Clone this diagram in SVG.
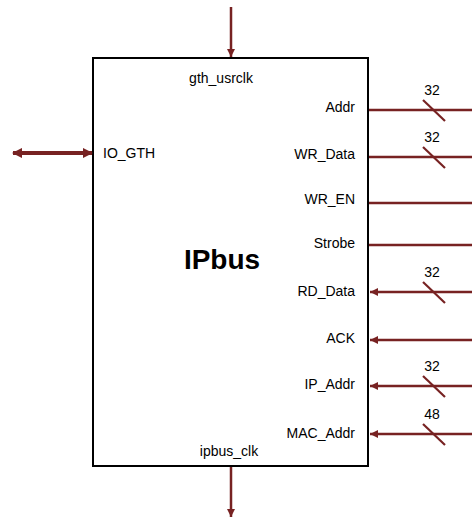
<svg xmlns="http://www.w3.org/2000/svg" width="472" height="521" viewBox="0 0 472 521">
<defs>
<marker id="ah" viewBox="0 0 10 10" refX="10" refY="5" markerWidth="3.2" markerHeight="3.2" orient="auto-start-reverse" markerUnits="strokeWidth">
<path d="M0,0 L10,5 L0,10 Z" fill="#772222"/>
</marker>
<marker id="ah2" viewBox="0 0 10 10" refX="9" refY="5" markerWidth="2.6" markerHeight="2.6" orient="auto-start-reverse" markerUnits="strokeWidth">
<path d="M0,0 L10,5 L0,10 Z" fill="#772222"/>
</marker>
</defs>
<style>
.w{stroke:#772222;stroke-width:2.5;fill:none}
.s{stroke:#772222;stroke-width:2.2;fill:none}
.t{font-family:"Liberation Sans",Arial,sans-serif;font-size:14px;fill:#000}
.r{text-anchor:end}
.c{text-anchor:middle}
</style>
<rect width="472" height="521" fill="#fff"/>
<g id="ipbus">
<rect x="93" y="58" width="275" height="408" fill="#fff" stroke="#000" stroke-width="2"/>
<text x="222" y="269" class="c" font-family="Liberation Sans,Arial,sans-serif" font-size="28" font-weight="bold">IPbus</text>
<text x="221" y="83" class="t c">gth_usrclk</text>
<text x="229" y="456" class="t c">ipbus_clk</text>
<text x="103" y="158" class="t">IO_GTH</text>
<text x="355" y="112" class="t r">Addr</text>
<text x="355" y="159" class="t r">WR_Data</text>
<text x="355" y="204" class="t r">WR_EN</text>
<text x="355" y="248" class="t r">Strobe</text>
<text x="355" y="296" class="t r">RD_Data</text>
<text x="355" y="343" class="t r">ACK</text>
<text x="355" y="389" class="t r">IP_Addr</text>
<text x="355" y="438" class="t r">MAC_Addr</text>
</g>
<g id="connectors">
<line x1="231" y1="7" x2="231" y2="57" class="w" marker-end="url(#ah)"/>
<line x1="231" y1="467" x2="231" y2="517" class="w" marker-end="url(#ah)"/>
<line x1="13" y1="153" x2="92" y2="153" stroke="#772222" stroke-width="4" marker-start="url(#ah2)" marker-end="url(#ah2)"/>
<line x1="369" y1="110" x2="472" y2="110" class="w"/>
<line x1="369" y1="157" x2="472" y2="157" class="w"/>
<line x1="369" y1="203" x2="472" y2="203" class="w"/>
<line x1="369" y1="245" x2="472" y2="245" class="w"/>
<line x1="472" y1="292" x2="370" y2="292" class="w" marker-end="url(#ah)"/>
<line x1="472" y1="340" x2="370" y2="340" class="w" marker-end="url(#ah)"/>
<line x1="472" y1="386" x2="370" y2="386" class="w" marker-end="url(#ah)"/>
<line x1="472" y1="434" x2="370" y2="434" class="w" marker-end="url(#ah)"/>
<g class="s">
<line x1="423" y1="100" x2="445" y2="121"/>
<line x1="423" y1="147" x2="445" y2="168"/>
<line x1="423" y1="282" x2="445" y2="303"/>
<line x1="423" y1="376" x2="445" y2="397"/>
<line x1="423" y1="424" x2="445" y2="445"/>
</g>
<text x="432" y="95" class="t c">32</text>
<text x="432" y="142" class="t c">32</text>
<text x="432" y="277" class="t c">32</text>
<text x="432" y="371" class="t c">32</text>
<text x="432" y="419" class="t c">48</text>
</g>
</svg>
